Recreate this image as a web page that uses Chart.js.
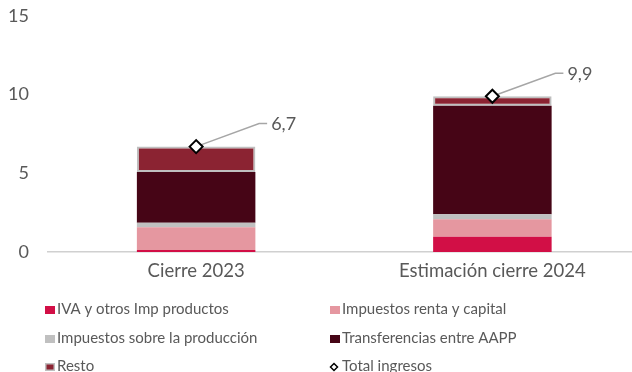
<!DOCTYPE html>
<html lang="es">
<head>
<meta charset="utf-8">
<title>Ingresos</title>
<script src="https://cdn.jsdelivr.net/npm/chart.js@4/dist/chart.umd.min.js"></script>
<style>
  html, body { margin: 0; padding: 0; background: #ffffff; overflow: hidden; }
  #wrap { width: 632px; height: 372px; overflow: hidden; }
  canvas { display: block; }
</style>
</head>
<body>
<div id="wrap"><canvas id="chart" width="649" height="372"></canvas></div>
<script>
// Categories and series (miles de millones)
const categories = ['Cierre 2023', 'Estimación cierre 2024'];
const ivaOtrosImp = [0.13, 0.97];
const impRentaCapital = [1.44, 1.11];
const impProduccion = [0.29, 0.32];
const transferenciasAAPP = [3.23, 6.90];
const resto = [1.61, 0.60];
const totalIngresos = [6.7, 9.9];
const yTicks = [0, 5, 10, 15];

const TEXT = '#595959';
const FONT = 'Lato, "Open Sans", sans-serif';

const fmt = v => v.toFixed(1).replace('.', ',');

// Leader line + value label for the total markers
const totalLabels = {
  id: 'totalLabels',
  beforeDatasetsDraw(chart) {
    const idx = chart.data.datasets.findIndex(d => d.type === 'line');
    const meta = chart.getDatasetMeta(idx);
    const ctx = chart.ctx;
    ctx.save();
    meta.data.forEach((pt, i) => {
      const x = pt.x, y = pt.y;
      const ex = x + 63, ey = y - 23;
      ctx.strokeStyle = '#a6a6a6';
      ctx.lineWidth = 1.5;
      ctx.beginPath();
      ctx.moveTo(x, y);
      ctx.lineTo(ex, ey);
      ctx.lineTo(ex + 8, ey);
      ctx.stroke();
      ctx.fillStyle = TEXT;
      ctx.font = '18px ' + FONT;
      ctx.textAlign = 'left';
      ctx.textBaseline = 'middle';
      ctx.fillText(fmt(chart.data.datasets[idx].data[i]), ex + 12, ey + 1);
    });
    ctx.restore();
  }
};

// Two-column legend under the axis
const gridLegend = {
  id: 'gridLegend',
  afterDraw(chart) {
    const ctx = chart.ctx;
    const cols = [45, 330];
    const rows = [309, 338, 366];
    ctx.save();
    ctx.font = '15px ' + FONT;
    ctx.textBaseline = 'middle';
    ctx.textAlign = 'left';
    chart.data.datasets.forEach((ds, i) => {
      const x = cols[i % 2];
      const y = rows[Math.floor(i / 2)];
      if (ds.type === 'line') {
        const cx = x + 4, cy = y + 1, r = 3.5;
        ctx.beginPath();
        ctx.moveTo(cx, cy - r);
        ctx.lineTo(cx + r, cy);
        ctx.lineTo(cx, cy + r);
        ctx.lineTo(cx - r, cy);
        ctx.closePath();
        ctx.fillStyle = '#ffffff';
        ctx.fill();
        ctx.strokeStyle = '#000000';
        ctx.lineWidth = 1.5;
        ctx.stroke();
      } else {
        ctx.fillStyle = ds.backgroundColor;
        ctx.fillRect(x, y - 3, 10, 8);
        if (ds.borderWidth) {
          ctx.strokeStyle = ds.borderColor;
          ctx.lineWidth = 1.5;
          ctx.strokeRect(x + 0.75, y - 2.25, 8.5, 6.5);
        }
      }
      ctx.fillStyle = TEXT;
      ctx.fillText(ds.label, x + 12, y);
    });
    ctx.restore();
  }
};

const barDs = (label, data, color, extra) => Object.assign({
  type: 'bar', label, data, backgroundColor: color,
  borderWidth: 0, stack: 'ingresos', order: 1,
  barPercentage: 0.4, categoryPercentage: 1.0
}, extra || {});

new Chart(document.getElementById('chart'), {
  data: {
    labels: categories,
    datasets: [
      barDs('IVA y otros Imp productos', ivaOtrosImp, '#d20f46'),
      barDs('Impuestos renta y capital', impRentaCapital, '#e597a0'),
      barDs('Impuestos sobre la producción', impProduccion, '#c0c0c0'),
      barDs('Transferencias entre AAPP', transferenciasAAPP, '#460516'),
      barDs('Resto', resto, '#8b2332', { borderWidth: 2, borderColor: '#bfbfbf', borderSkipped: false }),
      {
        type: 'line', label: 'Total ingresos', data: totalIngresos,
        showLine: false, stack: 'total', order: 0,
        pointStyle: 'rectRot', pointRadius: 6.5, pointHoverRadius: 6.5,
        pointBackgroundColor: '#ffffff', pointBorderColor: '#000000', pointBorderWidth: 2
      }
    ]
  },
  options: {
    responsive: false,
    animation: false,
    devicePixelRatio: 1,
    layout: { padding: { top: 16, right: 0, left: 0, bottom: 0 } },
    plugins: { legend: { display: false }, tooltip: { enabled: false }, title: { display: false } },
    scales: {
      x: {
        stacked: true,
        grid: { display: false },
        border: { display: true, color: '#d0d0d0', width: 1.5 },
        ticks: { color: TEXT, font: { family: FONT, size: 18.5 }, padding: 0 },
        afterFit(scale) { scale.height = 120; scale.paddingLeft = 0; scale.paddingRight = 0; }
      },
      y: {
        stacked: true,
        min: yTicks[0], max: yTicks[yTicks.length - 1],
        afterBuildTicks(scale) { scale.ticks = yTicks.map(v => ({ value: v })); },
        grid: { display: false, drawTicks: false },
        border: { display: false },
        ticks: { color: TEXT, font: { family: FONT, size: 18 }, padding: 19 },
        afterFit(scale) { scale.width = 48; scale.paddingTop = 0; scale.paddingBottom = 0; }
      }
    }
  },
  plugins: [totalLabels, gridLegend]
});
</script>
</body>
</html>
